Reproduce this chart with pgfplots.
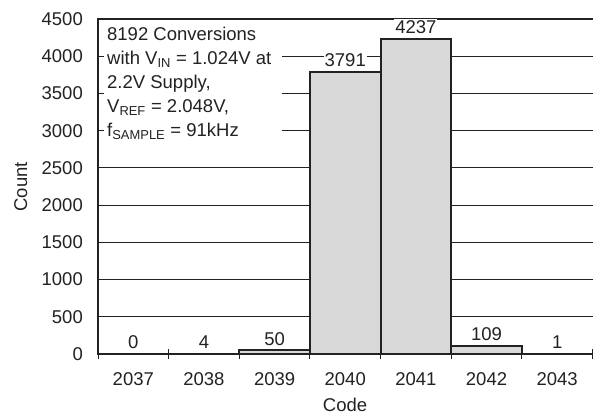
\documentclass[border=0pt]{standalone}
\usepackage{fontspec}
\setmainfont{Liberation Sans}
\usepackage{pgfplots}
\pgfplotsset{compat=1.18}
\definecolor{barfill}{HTML}{D9D9D9}
\definecolor{ink}{HTML}{222222}
\newcommand{\lbl}{\fontsize{18.5}{24}\selectfont}

\begin{document}
\begin{tikzpicture}
\begin{axis}[
  scale only axis, width=498pt, height=335pt,
  xmin=-0.5, xmax=6.55, ymin=0, ymax=4500,
  ybar, bar width=1,
  xtick={0,1,2,3,4,5,6},
  xticklabels={2037,2038,2039,2040,2041,2042,2043},
  minor xtick={-0.5,0.5,...,6.5},
  ytick={0,500,...,4500},
  /pgf/number format/.cd, 1000 sep={}, assume math mode=true, /pgfplots/.cd,
  xtick pos=bottom, ytick pos=left,
  xtick align=center, ytick align=inside,
  major tick length=4pt, minor tick length=10pt,
  every major x tick/.append style={draw=none},
  every tick/.append style={ink, line width=0.9pt},
  tick label style={font=\lbl, text=ink},
  yticklabel style={anchor=east, inner sep=0pt, xshift=-15pt},
  xticklabel style={anchor=north, inner sep=0pt, yshift=-16pt},
  axis line style={ink, line width=1.8pt},
  ymajorgrids, grid style={ink, line width=0.8pt},
  xlabel={Code}, ylabel={Count},
  xlabel style={at={(axis description cs:0.496,-0.153)}, anchor=center, font=\lbl, text=ink},
  ylabel style={at={(axis description cs:-0.155,0.499)}, anchor=center, font=\lbl, text=ink},
  nodes near coords,
  every node near coord/.append style={font=\lbl, text=ink, fill=white, inner sep=1pt, anchor=south, yshift=3pt},
]
\addplot[draw=ink, line width=2pt, fill=barfill] coordinates {
  (0,0) (1,4) (2,50) (3,3791) (4,4237) (5,109) (6,1)
};
\fill[white] (rel axis cs:0.012,0.994) rectangle (rel axis cs:0.369,0.609);
\node[font=\lbl, text=ink, anchor=base west, inner sep=0pt] at (rel axis cs:0.018,0.9358) {8192 Conversions};
\node[font=\lbl, text=ink, anchor=base west, inner sep=0pt] at (rel axis cs:0.018,0.8642) {with V\textsubscript{IN} = 1.024V at};
\node[font=\lbl, text=ink, anchor=base west, inner sep=0pt] at (rel axis cs:0.018,0.7925) {2.2V Supply,};
\node[font=\lbl, text=ink, anchor=base west, inner sep=0pt] at (rel axis cs:0.018,0.7209) {V\textsubscript{REF} = 2.048V,};
\node[font=\lbl, text=ink, anchor=base west, inner sep=0pt] at (rel axis cs:0.018,0.6493) {f\textsubscript{SAMPLE} = 91kHz};
\coordinate (O) at (rel axis cs:0,0);
\end{axis}
\pgfresetboundingbox
\path (O) ++(-98pt,-64pt) rectangle ++(593pt,418pt);
\end{tikzpicture}
\end{document}
